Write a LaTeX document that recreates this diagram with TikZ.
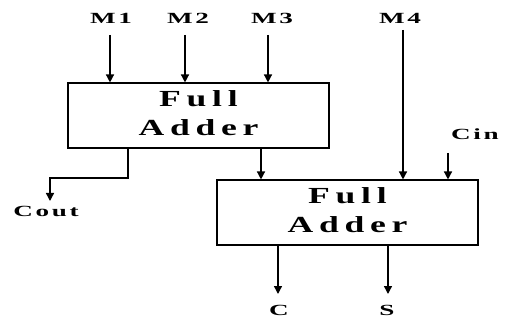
\documentclass[tikz,border=0pt]{standalone}
\usepackage{fontspec}
\usepackage{graphicx}
\setmainfont{Liberation Serif}
\newfontfamily\wideserif[LetterSpace=16]{Liberation Serif}
\newfontfamily\labserif[LetterSpace=10]{Liberation Serif}
\newcommand{\addertext}{\raisebox{-2pt}{\scalebox{1.55}[1]{\begin{tabular}{@{}c@{}}Full\\[1pt]Adder\end{tabular}}}}
\newcommand{\widelab}[1]{\scalebox{1.75}[1]{#1}}
\usetikzlibrary{arrows.meta}
\begin{document}
\begin{tikzpicture}[x=1pt,y=-1pt,
  wire/.style={line width=1.4pt,-{Triangle[length=8pt,width=8pt]}},
  adder/.style={draw,line width=1.1pt,inner sep=0pt,align=center,font=\wideserif\fontsize{23}{28}\selectfont\bfseries},
  lab/.style={font=\labserif\fontsize{15.5}{17}\selectfont\bfseries,inner sep=0pt}]
\useasboundingbox (0,0) rectangle (511,320);
\node[adder,minimum width=261pt,minimum height=65pt] (fa1) at (198.5,115.5) {\addertext};
\node[adder,minimum width=261pt,minimum height=65pt] (fa2) at (347.5,212.5) {\addertext};
\node[lab] (m1) at (111,18) {\widelab{M1}};
\node[lab] (m2) at (188,18) {\widelab{M2}};
\node[lab] (m3) at (272,18) {\widelab{M3}};
\node[lab] (m4) at (400,18) {\widelab{M4}};
\node[lab,anchor=west] (cin) at (451,134) {\widelab{Cin}};
\node[lab] (cout) at (46,211) {\widelab{Cout}};
\node[lab] (c) at (279,310) {\widelab{C}};
\node[lab] (s) at (387,310) {\widelab{S}};
\coordinate (m1s) at (110,35);
\coordinate (m2s) at (185,35);
\coordinate (m3s) at (268,35);
\coordinate (m4s) at (403,30);
\coordinate (cins) at (448,153);
\draw[wire] (m1s) -- (m1s |- fa1.north);
\draw[wire] (m2s) -- (m2s |- fa1.north);
\draw[wire] (m3s) -- (m3s |- fa1.north);
\draw[wire] (m4s) -- (m4s |- fa2.north);
\draw[wire] (cins) -- (cins |- fa2.north);
\coordinate (l1) at (261,148);
\draw[wire] (l1) -- (l1 |- fa2.north);
\coordinate (co1) at (128,148);
\coordinate (co2) at (128,178);
\coordinate (co3) at (50,178);
\coordinate (co4) at (50,201);
\draw[wire] (co1) -- (co2) -- (co3) -- (co4);
\coordinate (c1) at (278,245);
\coordinate (c2) at (278,294);
\draw[wire] (c1) -- (c2);
\coordinate (s1) at (388,245);
\coordinate (s2) at (388,294);
\draw[wire] (s1) -- (s2);
\end{tikzpicture}
\end{document}
